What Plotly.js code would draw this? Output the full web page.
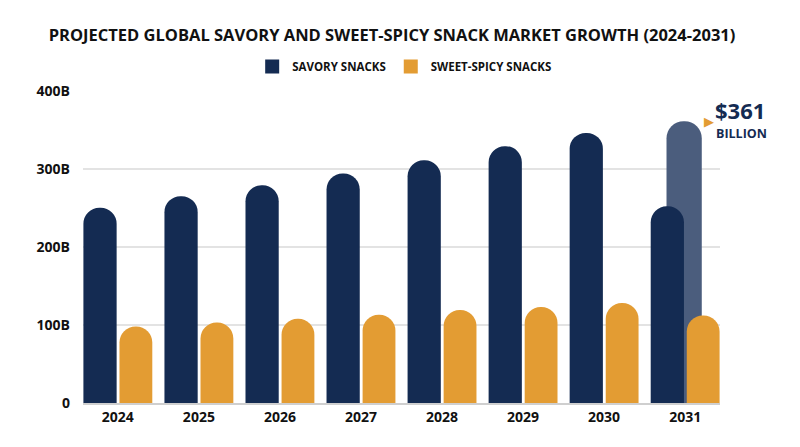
<!DOCTYPE html>
<html>
<head>
<meta charset="utf-8">
<script src="https://cdn.plot.ly/plotly-3.0.1.min.js"></script>
<style>
    html, body { margin: 0; padding: 0; background: #ffffff; }
    #chart { width: 800px; height: 447px; }
</style>
</head>
<body>
<div id="chart"></div>
<script>
// Chart data
const years = ['2024', '2025', '2026', '2027', '2028', '2029', '2030', '2031'];
const savorySnacks = [250, 265, 279, 294, 311, 329, 346, 252];
const sweetSpicySnacks = [98, 103, 108, 113, 119, 123, 128, 112];
const projectedYear = ['2031'];
const projectedSavory = [361];

const yTickVals = [0, 100, 200, 300, 400];
const yTickText = ['0', '100B', '200B', '300B', '400B'];

// Palette
const NAVY = '#142b52';
const ORANGE = '#e39c33';
const SLATE = '#4b5d7d';
const FONT = '"Open Sans", sans-serif';

const traces = [
    {
        // projected 2031 total, drawn behind the others
        x: projectedYear,
        y: projectedSavory,
        type: 'bar',
        name: 'Projected',
        showlegend: false,
        offset: -0.23,
        width: 0.435,
        marker: { color: SLATE, cornerradius: '50%' },
        hoverinfo: 'skip'
    },
    {
        x: years,
        y: savorySnacks,
        type: 'bar',
        name: 'SAVORY SNACKS',
        showlegend: false,
        offset: -0.425,
        width: 0.41,
        marker: { color: NAVY, cornerradius: '50%' }
    },
    {
        x: years,
        y: sweetSpicySnacks,
        type: 'bar',
        name: 'SWEET-SPICY SNACKS',
        showlegend: false,
        offset: 0.02,
        width: 0.405,
        marker: { color: ORANGE, cornerradius: '50%' }
    },
    // square legend keys
    {
        x: [null], y: [null], type: 'scatter', mode: 'markers',
        name: 'SAVORY SNACKS',
        marker: { symbol: 'square', size: 14, color: NAVY }
    },
    {
        x: [null], y: [null], type: 'scatter', mode: 'markers',
        name: 'SWEET-SPICY SNACKS',
        marker: { symbol: 'square', size: 14, color: ORANGE }
    }
];

const layout = {
    width: 800,
    height: 447,
    paper_bgcolor: '#ffffff',
    plot_bgcolor: '#ffffff',
    barmode: 'overlay',
    margin: { t: 90, r: 80, b: 44, l: 83 },
    font: { family: FONT, color: '#111111' },
    showlegend: true,
    title: {
        text: 'PROJECTED GLOBAL SAVORY AND SWEET-SPICY SNACK MARKET GROWTH (2024-2031)',
        x: 0.49,
        xanchor: 'center',
        y: 0.922,
        yanchor: 'middle',
        font: { family: FONT, size: 16.5, weight: 700, color: '#111111' }
    },
    legend: {
        orientation: 'h',
        x: 0.505,
        xanchor: 'center',
        y: 1.075,
        yanchor: 'middle',
        font: { family: FONT, size: 11.5, weight: 700, color: '#111111' },
        traceorder: 'normal'
    },
    xaxis: {
        type: 'category',
        categoryorder: 'array',
        categoryarray: years,
        range: [-0.43, 7.43],
        showgrid: false,
        showline: true,
        linecolor: '#cfcfcf',
        linewidth: 2,
        ticks: '',
        tickfont: { family: FONT, size: 14, weight: 700, color: '#111111' },
        fixedrange: true
    },
    yaxis: {
        range: [0, 401],
        tickvals: yTickVals,
        ticktext: yTickText,
        showgrid: true,
        gridcolor: '#e3e3e3',
        gridwidth: 1.5,
        zeroline: false,
        showline: false,
        ticks: '',
        ticklabelstandoff: 12,
        tickfont: { family: FONT, size: 14, weight: 700, color: '#111111' },
        fixedrange: true
    },
    annotations: [
        {
            x: 7,
            y: projectedSavory[0],
            xref: 'x',
            yref: 'y',
            text: '\u25B6',
            showarrow: false,
            xshift: 24,
            font: { family: 'DejaVu Sans', size: 13, color: ORANGE }
        },
        {
            x: 7,
            y: projectedSavory[0],
            xref: 'x',
            yref: 'y',
            xanchor: 'left',
            yanchor: 'bottom',
            text: '$' + projectedSavory[0],
            showarrow: false,
            xshift: 28,
            yshift: -6,
            font: { family: FONT, size: 22, weight: 700, color: NAVY }
        },
        {
            x: 7,
            y: projectedSavory[0],
            xref: 'x',
            yref: 'y',
            xanchor: 'left',
            yanchor: 'top',
            text: 'BILLION',
            showarrow: false,
            xshift: 29,
            yshift: -2,
            font: { family: FONT, size: 12.5, weight: 700, color: NAVY }
        }
    ]
};

Plotly.newPlot('chart', traces, layout, { displayModeBar: false, responsive: false });
</script>
</body>
</html>
